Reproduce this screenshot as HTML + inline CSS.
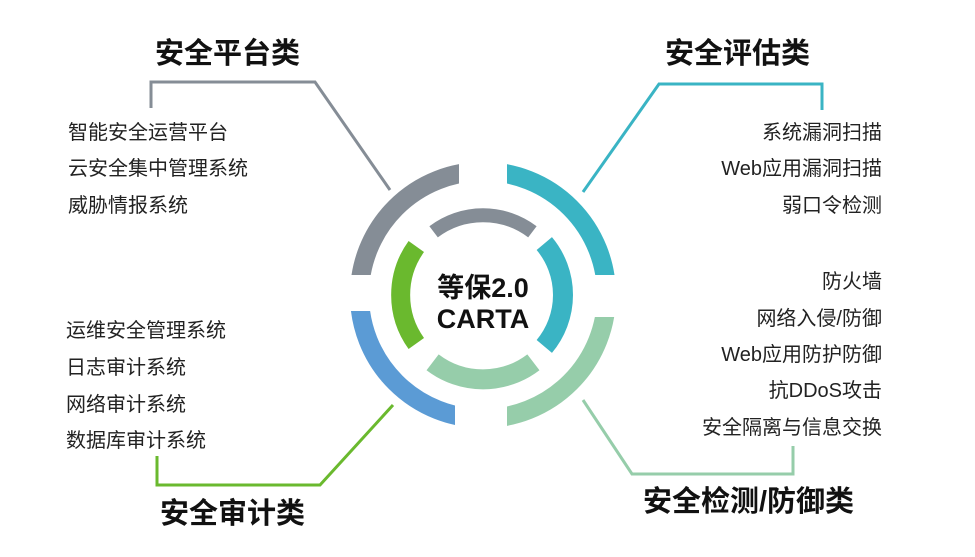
<!DOCTYPE html>
<html><head><meta charset="utf-8"><style>
html,body{margin:0;padding:0;background:#fff;}
svg{display:block;}
text{font-family:"Liberation Sans","Noto Sans CJK SC",sans-serif;}
.t{font-size:29px;font-weight:bold;fill:#111;}
.l{font-size:20px;fill:#222;}
</style></head><body>
<svg width="975" height="557" viewBox="0 0 975 557" xmlns="http://www.w3.org/2000/svg">
<defs>
<clipPath id="tl"><rect x="0" y="0" width="459" height="275"/></clipPath>
<clipPath id="tr"><rect x="507" y="0" width="500" height="275"/></clipPath>
<clipPath id="bl"><rect x="0" y="311" width="455" height="300"/></clipPath>
<clipPath id="br"><rect x="507" y="317" width="500" height="300"/></clipPath>
</defs>
<polyline points="151,108 151,82 315,82 390,190" fill="none" stroke="#858d96" stroke-width="3"/>
<polyline points="822,110 822,84 659,84 583,192" fill="none" stroke="#3ab4c4" stroke-width="3"/>
<polyline points="157,456 157,485 320,485 393,405" fill="none" stroke="#6ab92e" stroke-width="3"/>
<polyline points="793,446 793,474 632,474 583,400" fill="none" stroke="#96cdaa" stroke-width="3"/>
<g fill="none" stroke-width="19">
<circle cx="483" cy="295" r="123.5" stroke="#858d96" clip-path="url(#tl)"/>
<circle cx="483" cy="295" r="123.5" stroke="#3ab4c4" clip-path="url(#tr)"/>
<circle cx="483" cy="295" r="123.5" stroke="#5b9bd5" clip-path="url(#bl)"/>
<circle cx="483" cy="295" r="123.5" stroke="#96cdaa" clip-path="url(#br)"/>
</g>
<g fill="none">
<path d="M 433.6 231.8 A 82 82 0 0 1 532.4 231.8" stroke="#858d96" stroke-width="14"/>
<path d="M 416.3 246.5 A 83 83 0 0 0 416.3 343.5" stroke="#6ab92e" stroke-width="19"/>
<path d="M 544.3 243.6 A 80 80 0 0 1 544.3 346.4" stroke="#3ab4c4" stroke-width="20"/>
<path d="M 432.6 362.3 A 83 83 0 0 0 533.4 362.3" stroke="#96cdaa" stroke-width="20"/>
</g>
<text x="483" y="297" text-anchor="middle" class="t" style="font-size:27px">等保2.0</text>
<text x="483" y="328" text-anchor="middle" class="t" style="font-size:27px">CARTA</text>
<text x="155" y="63" class="t">安全平台类</text>
<text x="665" y="63" class="t">安全评估类</text>
<text x="160" y="523" class="t">安全审计类</text>
<text x="643" y="511" class="t">安全检测/防御类</text>
<text x="68" y="139" class="l">智能安全运营平台</text>
<text x="68" y="175" class="l">云安全集中管理系统</text>
<text x="68" y="212" class="l">威胁情报系统</text>
<text x="66" y="337" class="l">运维安全管理系统</text>
<text x="66" y="374" class="l">日志审计系统</text>
<text x="66" y="411" class="l">网络审计系统</text>
<text x="66" y="447" class="l">数据库审计系统</text>
<g text-anchor="end">
<text x="882" y="139" class="l">系统漏洞扫描</text>
<text x="882" y="175" class="l">Web应用漏洞扫描</text>
<text x="882" y="212" class="l">弱口令检测</text>
<text x="882" y="288" class="l">防火墙</text>
<text x="882" y="325" class="l">网络入侵/防御</text>
<text x="882" y="361" class="l">Web应用防护防御</text>
<text x="882" y="397" class="l">抗DDoS攻击</text>
<text x="882" y="434" class="l">安全隔离与信息交换</text>
</g>
</svg>
</body></html>
